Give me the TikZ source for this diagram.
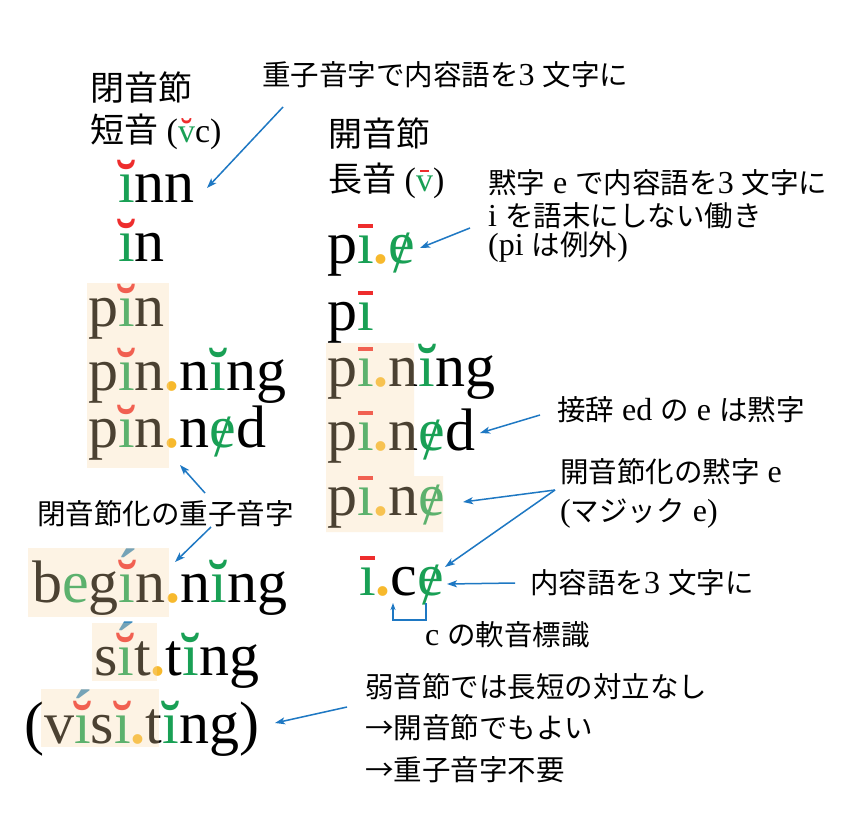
\documentclass[tikz,border=0pt]{standalone}
\usepackage{fontspec}
\setmainfont{Liberation Serif}
\newfontfamily\jpf{Noto Sans CJK JP}
\usetikzlibrary{arrows.meta}
\definecolor{vg}{RGB}{25,160,85}
\definecolor{rd}{RGB}{238,45,45}
\definecolor{bl}{RGB}{30,120,195}
\definecolor{acc}{RGB}{60,140,190}
\definecolor{dotc}{RGB}{247,185,45}
\definecolor{hl}{RGB}{250,217,167}
\newcommand\jp[1]{{\jpf #1}}
\newcommand\jn[1]{{\jpf\fontsize{28.5}{34}\selectfont #1}}
\newcommand\vIbr[1]{\ooalign{\textcolor{vg}{ı}\cr\hidewidth\textcolor{#1}{\bfseries ˘}\hidewidth\cr}}
\newcommand\vIr{\vIbr{rd}}
\newcommand\vIg{\vIbr{vg}}
\newcommand\vIa{\ooalign{\textcolor{vg}{ı}\cr\hidewidth\textcolor{rd}{\bfseries ˘}\hidewidth\cr\hidewidth\raisebox{0.2em}{\textcolor{acc}{\bfseries ´}}\hidewidth\cr}}
\newcommand\vBar{\textcolor{rd}{\rule[0.585em]{0.25em}{0.065em}}}
\newcommand\vIl{\ooalign{\textcolor{vg}{ı}\cr\hidewidth\vBar\hidewidth\cr}}
\newcommand\vEs{\ooalign{\textcolor{vg}{e}\cr\hidewidth\raisebox{-0.15em}{\textcolor{vg}{/}}\hidewidth\cr}}
\newcommand\vDt{\textcolor{dotc}{\bfseries .}}
\newcommand\vVbr{\ooalign{\textcolor{vg}{v}\cr\hidewidth\textcolor{rd}{\bfseries ˘}\hidewidth\cr}}
\newcommand\vVmc{\ooalign{\textcolor{vg}{v}\cr\hidewidth\vBar\hidewidth\cr}}
\begin{document}
\begin{tikzpicture}[x=1pt,y=-1pt,
  word/.style={anchor=base west,inner sep=0pt,font=\fontsize{60}{72}\selectfont},
  hd/.style={anchor=west,inner sep=0pt,font=\fontsize{34}{40}\selectfont},
  note/.style={anchor=west,inner sep=0pt,font=\fontsize{32}{38}\selectfont},
  arr/.style={draw=bl,line width=1.5pt,-{Stealth[length=10pt,width=7pt,inset=2.5pt]}},
  sarr/.style={draw=bl,line width=1.5pt,-{Stealth[length=7pt,width=5pt,inset=2pt]}},
  hlbox/.style={fill=hl,fill opacity=0.3,draw=none}]
\useasboundingbox (0,0) rectangle (853,835);
\fill[white] (0,0) rectangle (853,835);
% headers
\node[hd] (h1) at (90,88) {\jp{閉音節}};
\node[hd] (h2) at (90,132) {\jp{短音} (\vVbr c)};
\node[hd] (h3) at (328,134) {\jp{開音節}};
\node[hd] (h4) at (328,181) {\jp{長音} (\vVmc)};
% left words
\node[word] (w1) at (118,202) {\vIr nn};
\node[word] (w2) at (118,261) {\vIr n};
\node[word] (w3) at (88,326) {p\vIr n};
\node[word] (w4) at (88,390) {p\vIr n\vDt n\vIg ng};
\node[word] (w5) at (88,447) {p\vIr n\vDt n\vEs d};
\node[word] (w6) at (32,602) {b\textcolor{vg}{e}g\vIa n\vDt n\vIg ng};
\node[word] (w7) at (94,675) {s\vIa t\vDt t\vIg ng};
\node[word] (w8) at (24,743) {(v\vIa s\vIr\vDt t\vIg ng)};
% right words
\node[word] (r1) at (327,263) {p\vIl\vDt\vEs};
\node[word] (r2) at (327,330) {p\vIl};
\node[word] (r3) at (327,386) {p\vIl\vDt n\vIg ng};
\node[word] (r4) at (327,450) {p\vIl\vDt n\vEs d};
\node[word] (r5) at (327,515) {p\vIl\vDt n\vEs};
\node[word] (r6) at (359,595) {\vIl\vDt c\vEs};
% notes
\node[note] (n1) at (262,75) {\jn{重子音字で内容語を}3 \jn{文字に}};
\node[note] (n2a) at (488,183) {\jn{黙字} e \jn{で内容語を}3 \jn{文字に}};
\node[note] (n2b) at (488,216) {i \jn{を語末にしない働き}};
\node[note] (n2c) at (488,247) {(pi \jn{は例外})};
\node[note] (n3) at (557,410) {\jn{接辞} ed \jn{の} e \jn{は黙字}};
\node[note] (n4a) at (560,472) {\jn{開音節化の黙字} e};
\node[note] (n4b) at (560,513) {(\jn{マジック} e)};
\node[note] (n5) at (530,583) {\jn{内容語を}3 \jn{文字に}};
\node[note] (n6) at (425,635) {c \jn{の軟音標識}};
\node[note] (n7) at (37,514) {\jn{閉音節化の重子音字}};
\node[note] (n8a) at (365,687) {\jn{弱音節では長短の対立なし}};
\node[note] (n8b) at (365,728) {\jn{→開音節でもよい}};
\node[note] (n8c) at (365,770) {\jn{→重子音字不要}};
% highlight overlays
\path[hlbox] (87,283) rectangle (169,468);
\path[hlbox] (28,548) rectangle (169,617);
\path[hlbox] (92,623) rectangle (157,681);
\path[hlbox] (41,689) rectangle (159,747);
\path[hlbox] (326,343) -- (414,343) -- (414,476) -- (443,476) -- (443,532) -- (326,532) -- cycle;
% arrows
\coordinate (a1s) at (283,107); \coordinate (a1e) at (207,188);
\coordinate (a2s) at (470,228); \coordinate (a2e) at (420,248);
\coordinate (a3s) at (540,415); \coordinate (a3e) at (480,433);
\coordinate (a4s) at (555,490); \coordinate (a4e) at (463,502);
\coordinate (a5e) at (445,567);
\coordinate (a6s) at (515,583); \coordinate (a6e) at (447,584);
\coordinate (a7s) at (205,493); \coordinate (a7e) at (180,465);
\coordinate (a8s) at (211,527); \coordinate (a8e) at (175,562);
\coordinate (a9s) at (347,707); \coordinate (a9e) at (275,723);
\coordinate (bs) at (426,603); \coordinate (bt) at (393,603);
\draw[arr] (a1s) -- (a1e);
\draw[arr] (a2s) -- (a2e);
\draw[arr] (a3s) -- (a3e);
\draw[arr] (a4s) -- (a4e);
\draw[arr] (a4s) -- (a5e);
\draw[arr] (a6s) -- (a6e);
\draw[arr] (a7s) -- (a7e);
\draw[arr] (a8s) -- (a8e);
\draw[arr] (a9s) -- (a9e);
\draw[sarr] (bs) -- ++(0,17) -| (bt);
\end{tikzpicture}
\end{document}
